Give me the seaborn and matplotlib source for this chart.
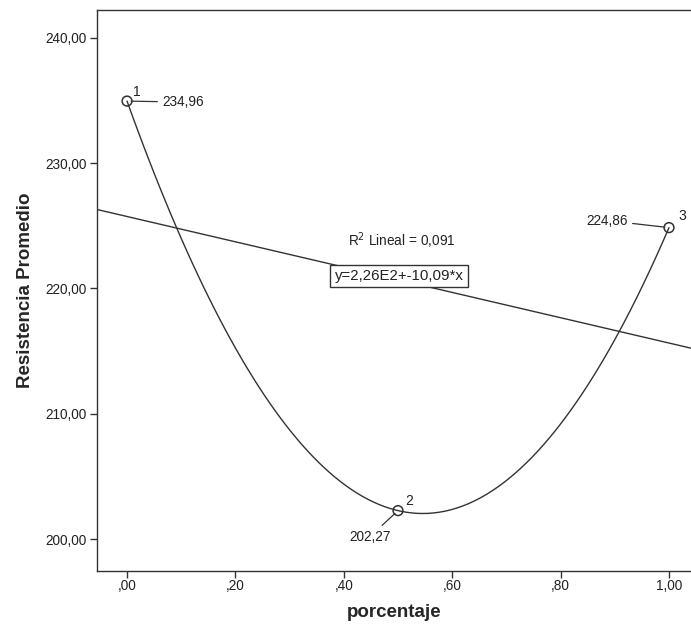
import matplotlib
matplotlib.use("Agg")
import matplotlib.pyplot as plt
import seaborn as sns
import pandas as pd
import numpy as np

# ---- data ----
porcentaje = [0.0, 0.5, 1.0]
resistencia = [234.96, 202.27, 224.86]
case_ids = ["1", "2", "3"]
value_labels = ["234,96", "202,27", "224,86"]
x_ticks = [0.0, 0.2, 0.4, 0.6, 0.8, 1.0]
x_ticklabels = [",00", ",20", ",40", ",60", ",80", "1,00"]
y_ticks = [200, 210, 220, 230, 240]
y_ticklabels = ["200,00", "210,00", "220,00", "230,00", "240,00"]
r2_text = "R$^2$ Lineal = 0,091"
eq_text = "y=2,26E2+-10,09*x"

df = pd.DataFrame({"porcentaje": porcentaje, "resistencia": resistencia})

sns.set_theme(style="white")
plt.rcParams["font.family"] = ["Liberation Sans", "DejaVu Sans"]

fig = plt.figure(figsize=(6.91, 6.32), dpi=100)
ax = fig.add_axes([97/691, (632-571)/632, (691-97)/691, (571-10)/632])

ax.set_xlim(-0.0554, 1.0406)
ax.set_ylim(197.45, 242.23)

line_col = "#333333"
txt_col = "#222222"
# quadratic fit through the means
sns.regplot(data=df, x="porcentaje", y="resistencia", order=2, ci=None,
            scatter=False, truncate=True, ax=ax,
            line_kws=dict(color=line_col, lw=1.0))
# linear fit across the whole axis
sns.regplot(data=df, x="porcentaje", y="resistencia", order=1, ci=None,
            scatter=False, truncate=False, ax=ax,
            line_kws=dict(color=line_col, lw=1.0))
# open circle markers
sns.scatterplot(data=df, x="porcentaje", y="resistencia", ax=ax, marker="o",
                s=50, facecolor="none", edgecolor=line_col, linewidth=1.1,
                zorder=5)

# point annotations (case id + value label with leader line), offsets in pixels
id_offsets = [(10, 9), (11, 10), (13, 12)]
val_offsets = [(35, -1), (-28, -26), (-41, 7)]
val_ha = ["left", "center", "right"]
for xi, yi, cid, vl, io, vo, ha in zip(porcentaje, resistencia, case_ids,
                                       value_labels, id_offsets, val_offsets, val_ha):
    ax.annotate(cid, (xi, yi), xytext=io, textcoords="offset pixels",
                fontsize=10, color=txt_col, ha="center", va="center")
    ax.annotate(vl, (xi, yi), xytext=vo, textcoords="offset pixels",
                fontsize=9.8, color=txt_col, ha=ha, va="center",
                arrowprops=dict(arrowstyle="-", color=line_col, lw=0.9,
                                shrinkA=1, shrinkB=3))

# fit text
ax.text(402, 632-241, r2_text, transform=None, fontsize=9.8, color=txt_col,
        ha="center", va="center")
ax.text(399, 632-276, eq_text, transform=None, fontsize=10.8, color=txt_col,
        ha="center", va="center",
        bbox=dict(boxstyle="square,pad=0.28", fc="white", ec=line_col, lw=1.0))

ax.set_xticks(x_ticks)
ax.set_xticklabels(x_ticklabels)
ax.set_yticks(y_ticks)
ax.set_yticklabels(y_ticklabels)
ax.tick_params(axis="both", direction="out", length=5, width=1.0,
               color=line_col, labelsize=9.8, labelcolor=txt_col, pad=2.5,
               bottom=True, left=True)
ax.tick_params(axis="x", pad=1.0)

ax.set_xlabel("porcentaje", fontsize=13.5, fontweight="bold", labelpad=8)
ax.set_ylabel("Resistencia Promedio", fontsize=13.5, fontweight="bold", labelpad=8)

for s in ["left", "bottom", "top"]:
    ax.spines[s].set_visible(True)
    ax.spines[s].set_color(line_col)
    ax.spines[s].set_linewidth(1.0)
ax.spines["right"].set_visible(False)
ax.grid(False)

fig.savefig("out.png", dpi=100)
